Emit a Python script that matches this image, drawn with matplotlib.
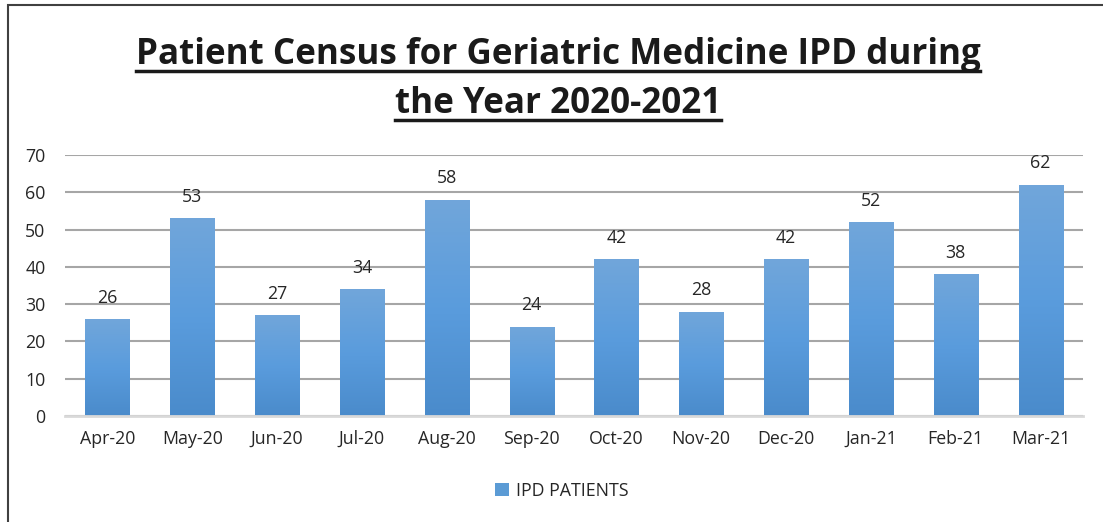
import matplotlib
matplotlib.use("Agg")
import matplotlib.pyplot as plt
import numpy as np
from matplotlib.colors import LinearSegmentedColormap
from matplotlib.patches import Rectangle, Patch
from matplotlib.lines import Line2D

months = ["Apr-20", "May-20", "Jun-20", "Jul-20", "Aug-20", "Sep-20",
          "Oct-20", "Nov-20", "Dec-20", "Jan-21", "Feb-21", "Mar-21"]
patients = [26, 53, 27, 34, 58, 24, 42, 28, 42, 52, 38, 62]
series_name = "IPD PATIENTS"
title_lines = ["Patient Census for Geriatric Medicine IPD during", "the Year 2020-2021"]

W, H = 1103, 522
FS = 12.8
fig = plt.figure(figsize=(W / 100, H / 100), dpi=100)
fig.patch.set_facecolor("white")

# border
fig.add_artist(Rectangle((8 / W, -0.05), (W + 10 - 8) / W, (H - 5) / H + 0.05,
                         transform=fig.transFigure, fill=False,
                         edgecolor="#404040", linewidth=1.5))

ax = fig.add_axes([65 / W, (H - 416) / H, (1083 - 65) / W, (416 - 155) / H])
x = np.arange(len(months))
bars = ax.bar(x, patients, width=0.52, color="#5B9BD5", zorder=2)
ax.set_yticks(range(0, 71, 10))
ax.grid(axis="y", color="#A6A6A6", linewidth=1.5, zorder=0)
ax.set_axisbelow(True)
for s in ["top", "right", "left"]:
    ax.spines[s].set_visible(False)
ax.spines["bottom"].set_color("#D9D9D9")
ax.spines["bottom"].set_linewidth(2)
ax.spines["bottom"].set_zorder(3)
ax.tick_params(axis="both", length=0, labelsize=FS, colors="#262626")
ax.tick_params(axis="y", pad=14)
ax.tick_params(axis="x", pad=10)
ax.set_xticks(x)
ax.set_xticklabels(months, family="Open Sans")
for lab in ax.get_yticklabels():
    lab.set_family("Open Sans")

# gradient fill
cmap = LinearSegmentedColormap.from_list("g", ["#4A8BCB", "#5A9CDD", "#71A6DA"])
grad = np.linspace(0, 1, 256).reshape(-1, 1)
for b in bars:
    b.set_facecolor("none")
    bx, by = b.get_x(), b.get_y()
    bw, bh = b.get_width(), b.get_height()
    im = ax.imshow(grad, cmap=cmap, extent=[bx, bx + bw, by, by + bh],
                   origin="lower", aspect="auto", zorder=2)
    im.set_clip_path(b)

ax.set_aspect("auto")
ax.set_xlim(-0.5, len(months) - 0.5)
ax.set_ylim(0, 70)

for xi, v in zip(x, patients):
    ax.annotate(str(v), (xi, v), xytext=(0, 9), textcoords="offset points",
                ha="center", va="bottom", fontsize=FS, color="#262626",
                family="Open Sans")

# title with underline
fig.canvas.draw()
renderer = fig.canvas.get_renderer()
baselines = [64, 113]
for line, yb in zip(title_lines, baselines):
    t = fig.text(558 / W, 1 - yb / H, line, ha="center", va="baseline",
                 fontsize=25.2, fontweight="bold", family="Open Sans", color="#1a1a1a")
    bb = t.get_window_extent(renderer)
    yl = (H - yb - 7) / H
    fig.add_artist(Line2D([bb.x0 / W, bb.x1 / W], [yl, yl],
                          transform=fig.transFigure, color="#1a1a1a", linewidth=2.5))

leg = fig.legend(handles=[Patch(facecolor="#5B9BD5", label=series_name)],
                 loc="center", bbox_to_anchor=(562 / W, 1 - 491 / H), frameon=False,
                 prop={"family": "Open Sans", "size": FS}, handlelength=0.75,
                 handleheight=0.75, handletextpad=0.4)
for t in leg.get_texts():
    t.set_color("#262626")

fig.savefig("out.png", dpi=100)
